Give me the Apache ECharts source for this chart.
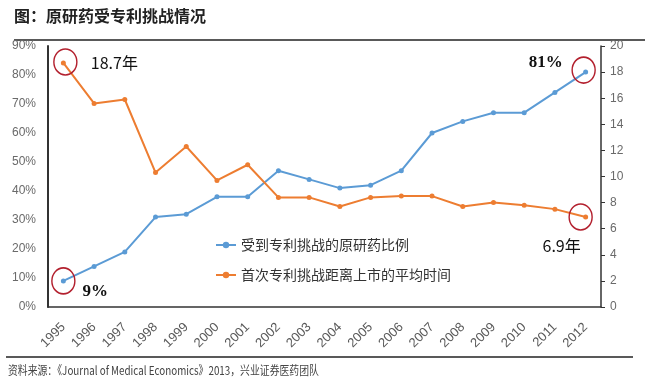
<!DOCTYPE html>
<html>
<head>
<meta charset="utf-8">
<script src="https://cdn.jsdelivr.net/npm/echarts@6/dist/echarts.min.js"></script>
<style>html,body{margin:0;padding:0;background:#fff;}#c{width:649px;height:384px;}</style>
</head>
<body>
<div id="c"></div>
<script>
var years = ['1995','1996','1997','1998','1999','2000','2001','2002','2003','2004','2005','2006','2007','2008','2009','2010','2011','2012'];
var shareChallenged = [9,14,19,31,32,38,38,47,44,41,42,47,60,64,67,67,74,81];
var yearsToChallenge = [18.7,15.6,15.9,10.3,12.3,9.7,10.9,8.4,8.4,7.7,8.4,8.5,8.5,7.7,8.0,7.8,7.5,6.9];
var leftTicks = [0,10,20,30,40,50,60,70,80,90];
var rightTicks = [0,2,4,6,8,10,12,14,16,18,20];
var seriesNames = ['受到专利挑战的原研药比例','首次专利挑战距离上市的平均时间'];

var chart = echarts.init(document.getElementById('c'));
var circleStyle = {color:'rgba(0,0,0,0)', borderColor:'#b3202e', borderWidth:1.5};
var sansLbl = {color:'#111', fontSize:16, fontFamily:'Noto Sans CJK SC'};
var serifLbl = {color:'#111', fontSize:17, fontWeight:'bold', fontFamily:'Liberation Serif'};
var last = years.length - 1;

chart.setOption({
  animation:false,
  grid:{left:48,right:48,top:46,bottom:77},
  legend:{
    orient:'vertical', left:210, top:233, itemGap:16, itemWidth:20, itemHeight:8,
    textStyle:{fontSize:14, color:'#333', fontFamily:'Noto Sans CJK SC'},
    data:seriesNames
  },
  graphic:[
    {type:'text', left:14, top:8, style:{text:'图：原研药受专利挑战情况', font:'bold 16px "Noto Sans CJK SC"', fill:'#222'}},
    {type:'line', shape:{x1:14,y1:40,x2:645,y2:40}, style:{stroke:'#222', lineWidth:1.5}},
    {type:'line', shape:{x1:6,y1:357,x2:633,y2:357}, style:{stroke:'#222', lineWidth:1.5}},
    {type:'text', x:8, y:364, scaleX:0.82, style:{text:'资料来源：《Journal of Medical Economics》2013，兴业证券医药团队', font:'12px "Noto Sans CJK SC"', fill:'#444'}}
  ],
  xAxis:{
    type:'category', data:years, boundaryGap:true,
    axisLine:{lineStyle:{color:'#333', width:1.5}},
    axisTick:{show:false},
    axisLabel:{rotate:45, fontSize:13, color:'#595959', fontFamily:'Liberation Sans', margin:18, interval:0}
  },
  yAxis:[
    {type:'value', min:leftTicks[0], max:leftTicks[leftTicks.length-1], interval:10,
     axisLine:{show:true, lineStyle:{color:'#333', width:2}}, axisTick:{show:false}, splitLine:{show:false},
     axisLabel:{formatter:'{value}%', fontSize:12, color:'#6a6a6a', fontFamily:'Liberation Sans', margin:12}},
    {type:'value', min:rightTicks[0], max:rightTicks[rightTicks.length-1], interval:2, position:'right',
     axisLine:{show:true, lineStyle:{color:'#333', width:1.5}}, axisTick:{show:true, length:4, lineStyle:{color:'#333'}}, splitLine:{show:false},
     axisLabel:{fontSize:12, color:'#6a6a6a', fontFamily:'Liberation Sans', margin:9}}
  ],
  series:[
    {name:seriesNames[0], type:'line', yAxisIndex:0, data:shareChallenged,
     symbol:'circle', symbolSize:5, lineStyle:{color:'#5b9bd5', width:2}, itemStyle:{color:'#5b9bd5'},
     markPoint:{symbol:'circle', symbolSize:[23,26], itemStyle:circleStyle, data:[
       {coord:[years[0], shareChallenged[0]], label:Object.assign({show:true, formatter:'9%', position:'inside', offset:[32,11]}, serifLbl)},
       {coord:[years[last], shareChallenged[last]], symbolOffset:[-2,-2], label:Object.assign({show:true, formatter:'81%', position:'inside', offset:[-38,-7]}, serifLbl)}
     ]}},
    {name:seriesNames[1], type:'line', yAxisIndex:1, data:yearsToChallenge,
     symbol:'circle', symbolSize:5, lineStyle:{color:'#ed7d31', width:2}, itemStyle:{color:'#ed7d31'},
     markPoint:{symbol:'circle', symbolSize:[23,26], itemStyle:circleStyle, data:[
       {coord:[years[0], yearsToChallenge[0]], symbolOffset:[2,-1], label:Object.assign({show:true, formatter:'18.7年', position:'inside', offset:[49,1]}, sansLbl)},
       {coord:[years[last], yearsToChallenge[last]], symbolOffset:[-5,0], label:Object.assign({show:true, formatter:'6.9年', position:'inside', offset:[-19,29]}, sansLbl)}
     ]}}
  ]
});
</script>
</body>
</html>
